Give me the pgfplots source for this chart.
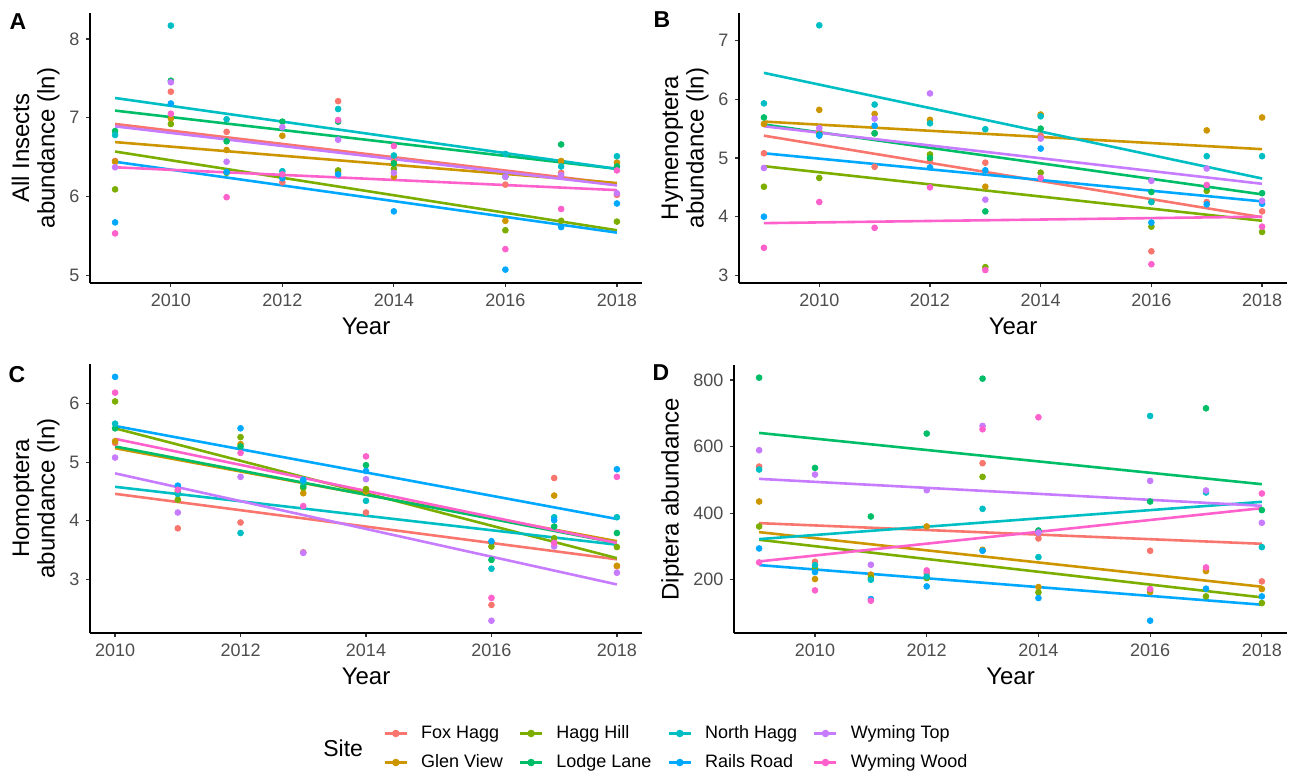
\documentclass[border=0pt]{standalone}
\usepackage{fontspec}
\setmainfont{Liberation Sans}
\usepackage{pgfplots}
\usepackage{pgfplotstable}
\pgfplotsset{compat=1.18}

\definecolor{cFH}{HTML}{F8766D}
\definecolor{cGV}{HTML}{CD9600}
\definecolor{cHH}{HTML}{7CAE00}
\definecolor{cLL}{HTML}{00BE67}
\definecolor{cNH}{HTML}{00BFC4}
\definecolor{cRR}{HTML}{00A9FF}
\definecolor{cWT}{HTML}{C77CFF}
\definecolor{cWW}{HTML}{FF61CC}
\definecolor{gray30}{RGB}{77,77,77}
\definecolor{gray20}{RGB}{51,51,51}

% Panel A: All insects (ln)
\pgfplotstableread{
year FH GV HH LL NH RR WT WW
2009 6.45 6.44 6.09 6.83 6.78 5.67 6.37 5.53
2010 7.33 6.99 6.92 7.47 8.17 7.18 7.45 7.05
2011 6.82 6.59 6.30 6.70 6.98 6.31 6.44 5.99
2012 6.18 6.77 6.27 6.95 6.32 6.23 6.88 6.28
2013 7.21 6.31 6.33 6.95 7.11 6.28 6.72 6.97
2014 6.45 6.25 6.35 6.42 6.52 5.81 6.30 6.64
2016 6.15 5.69 5.57 6.25 6.54 5.07 6.25 5.33
2017 6.30 6.45 5.69 6.66 6.38 5.61 6.27 5.84
2018 6.02 6.43 5.68 6.38 6.51 5.91 6.04 6.33
}\ptsA
\pgfplotstableread{
year FH GV HH LL NH RR WT WW
2009 6.92 6.69 6.57 7.09 7.25 6.44 6.89 6.37
2018 6.16 6.17 5.57 6.35 6.35 5.54 6.14 6.08
}\linA

% Panel B: Hymenoptera (ln)
\pgfplotstableread{
year FH GV HH LL NH RR WT WW
2009 5.08 5.58 4.51 5.69 5.93 4.00 4.83 3.47
2010 5.45 5.82 4.66 5.40 7.26 5.38 5.51 4.25
2011 4.85 5.75 5.42 5.42 5.91 5.55 5.67 3.81
2012 4.95 5.65 5.06 5.00 5.59 4.84 6.10 4.50
2013 4.92 4.51 3.14 4.09 5.49 4.79 4.29 3.09
2014 5.38 5.74 4.75 5.50 5.71 5.16 5.33 4.66
2016 3.41 4.25 3.83 4.42 4.25 3.90 4.61 3.19
2017 4.25 5.47 4.44 4.50 5.03 4.21 4.82 4.54
2018 4.09 5.69 3.74 4.40 5.03 4.22 4.27 3.83
}\ptsB
\pgfplotstableread{
year FH GV HH LL NH RR WT WW
2009 5.38 5.62 4.86 5.57 6.45 5.08 5.54 3.89
2018 3.99 5.15 3.93 4.38 4.65 4.26 4.56 4.00
}\linB

% Panel C: Homoptera (ln)
\pgfplotstableread{
year FH GV HH LL NH RR WT WW
2010 5.33 5.36 6.04 5.58 5.66 6.46 5.08 6.19
2011 3.87 4.50 4.36 4.46 4.46 4.60 4.14 4.53
2012 3.97 5.31 5.43 5.27 3.79 5.58 4.75 5.16
2013 3.46 4.47 4.56 4.59 4.67 4.70 3.45 4.25
2014 4.14 4.50 4.54 4.95 4.34 4.85 4.71 5.10
2016 2.56 3.63 3.56 3.33 3.18 3.65 2.29 2.68
2017 4.73 4.43 3.70 3.90 4.06 4.01 3.56 3.62
2018 3.22 3.23 3.55 3.79 4.06 4.88 3.11 4.75
}\ptsC
\pgfplotstableread{
year FH GV HH LL NH RR WT WW
2010 4.46 5.24 5.58 5.27 4.58 5.62 4.81 5.40
2018 3.34 3.65 3.36 3.62 3.59 4.03 2.91 3.62
}\linC

% Panel D: Diptera
\pgfplotstableread{
year FH GV HH LL NH RR WT WW
2009 540 435 360 807 531 294 589 252
2010 254 202 235 536 244 223 516 168
2011 215 215 206 390 200 142 245 137
2012 220 360 205 639 210 180 469 228
2013 550 290 509 804 413 287 662 652
2014 324 178 162 348 268 145 342 688
2016 287 163 170 435 692 77 497 172
2017 230 226 150 715 462 173 468 237
2018 195 172 130 409 298 150 371 459
}\ptsD
\pgfplotstableread{
year FH GV HH LL NH RR WT WW
2009 370 343 320 641 322 244 503 255
2018 308 179 147 487 434 125 422 415
}\linD

\newcommand{\sitepts}[3]{\addplot[forget plot, only marks, mark=*, mark size=1.45pt, color=#2, mark options={draw=none, fill=#2}] table[x=year,y=#1]{#3};}
\newcommand{\siteline}[3]{\addplot[forget plot, no marks, line width=1.3pt, color=#2] table[x=year,y=#1]{#3};}
\newcommand{\panel}[2]{%
\sitepts{FH}{cFH}{#1}\sitepts{GV}{cGV}{#1}\sitepts{HH}{cHH}{#1}\sitepts{LL}{cLL}{#1}%
\sitepts{NH}{cNH}{#1}\sitepts{RR}{cRR}{#1}\sitepts{WT}{cWT}{#1}\sitepts{WW}{cWW}{#1}%
\siteline{FH}{cFH}{#2}\siteline{GV}{cGV}{#2}\siteline{HH}{cHH}{#2}\siteline{LL}{cLL}{#2}%
\siteline{NH}{cNH}{#2}\siteline{RR}{cRR}{#2}\siteline{WT}{cWT}{#2}\siteline{WW}{cWW}{#2}%
}

\pgfplotsset{
  myax/.style={
    scale only axis,
    anchor=south west,
    axis x line*=bottom,
    axis y line*=left,
    axis line style={-, line width=0.6pt, black},
    tick align=outside,
    major tick length=1.8pt,
    every tick/.style={gray20, line width=0.6pt},
    tick label style={font=\fontsize{9}{10}\selectfont, text=gray30},
    label style={font=\fontsize{12}{12.75}\selectfont},
    xlabel style={yshift=1pt},
    ylabel style={yshift=-2pt},
    /pgf/number format/.cd, 1000 sep={}, assume math mode=true,
  },
}

\begin{document}
\begin{tikzpicture}
\path (0pt,0pt) rectangle (652pt,388pt);

% Panel A
\begin{axis}[myax, at={(45pt,246.5pt)}, width=276pt, height=135pt,
  xmin=2008.55, xmax=2018.45, ymin=4.9, ymax=8.33,
  xtick={2010,2012,2014,2016,2018}, ytick={5,6,7,8},
  xlabel={Year}, ylabel={All Insects\\abundance (ln)},
  ylabel style={align=center}]
\panel{\ptsA}{\linA}
\end{axis}

% Panel B
\begin{axis}[myax, at={(369.5pt,246.5pt)}, width=274pt, height=135pt,
  xmin=2008.55, xmax=2018.45, ymin=2.87, ymax=7.47,
  xtick={2010,2012,2014,2016,2018}, ytick={3,4,5,6,7},
  xlabel={Year}, ylabel={Hymenoptera\\abundance (ln)},
  ylabel style={align=center}]
\panel{\ptsB}{\linB}
\end{axis}

% Panel C
\begin{axis}[myax, at={(45pt,71.5pt)}, width=276pt, height=134.5pt,
  xmin=2009.6, xmax=2018.4, ymin=2.08, ymax=6.68,
  xtick={2010,2012,2014,2016,2018}, ytick={3,4,5,6},
  xlabel={Year}, ylabel={Homoptera\\abundance (ln)},
  ylabel style={align=center},
  legend columns=2, transpose legend,
  legend cell align=left,
  legend image code/.code={\draw[#1, mark repeat=2, mark phase=2] plot coordinates {(0pt,0pt) (5.5pt,0pt) (11pt,0pt)};},
  legend style={at={(0.531,-0.4275)}, anchor=west, draw=none, fill=none,
    font=\fontsize{9}{10}\selectfont, inner sep=0pt, row sep=4.5pt,
    nodes={inner sep=1pt},
    /tikz/every odd column/.append style={column sep=5.5pt},
    /tikz/every even column/.append style={column sep=7pt}}]
\panel{\ptsC}{\linC}
\addlegendimage{cFH, line width=1.3pt, mark=*, mark size=1.2pt, mark options={draw=none, fill=cFH}}
\addlegendimage{cGV, line width=1.3pt, mark=*, mark size=1.2pt, mark options={draw=none, fill=cGV}}
\addlegendimage{cHH, line width=1.3pt, mark=*, mark size=1.2pt, mark options={draw=none, fill=cHH}}
\addlegendimage{cLL, line width=1.3pt, mark=*, mark size=1.2pt, mark options={draw=none, fill=cLL}}
\addlegendimage{cNH, line width=1.3pt, mark=*, mark size=1.2pt, mark options={draw=none, fill=cNH}}
\addlegendimage{cRR, line width=1.3pt, mark=*, mark size=1.2pt, mark options={draw=none, fill=cRR}}
\addlegendimage{cWT, line width=1.3pt, mark=*, mark size=1.2pt, mark options={draw=none, fill=cWT}}
\addlegendimage{cWW, line width=1.3pt, mark=*, mark size=1.2pt, mark options={draw=none, fill=cWW}}
\legend{Fox Hagg, Glen View, Hagg Hill, Lodge Lane, North Hagg, Rails Road, Wyming Top, Wyming Wood}
\end{axis}

% Panel D
\begin{axis}[myax, at={(367pt,71.5pt)}, width=276.5pt, height=134pt,
  xmin=2008.55, xmax=2018.45, ymin=40, ymax=845,
  xtick={2010,2012,2014,2016,2018}, ytick={200,400,600,800},
  xlabel={Year}, ylabel={Diptera abundance}]
\panel{\ptsD}{\linD}
\end{axis}

% Tags and legend title
\node[font=\bfseries\fontsize{11.5}{12}\selectfont] at (9pt,377pt) {A};
\node[font=\bfseries\fontsize{11.5}{12}\selectfont] at (331pt,378pt) {B};
\node[font=\bfseries\fontsize{11.5}{12}\selectfont] at (8.5pt,200.5pt) {C};
\node[font=\bfseries\fontsize{11.5}{12}\selectfont] at (330.5pt,201.5pt) {D};
\node[font=\fontsize{11.5}{12}\selectfont, anchor=east] at (185pt,14pt) {Site};
\end{tikzpicture}
\end{document}
